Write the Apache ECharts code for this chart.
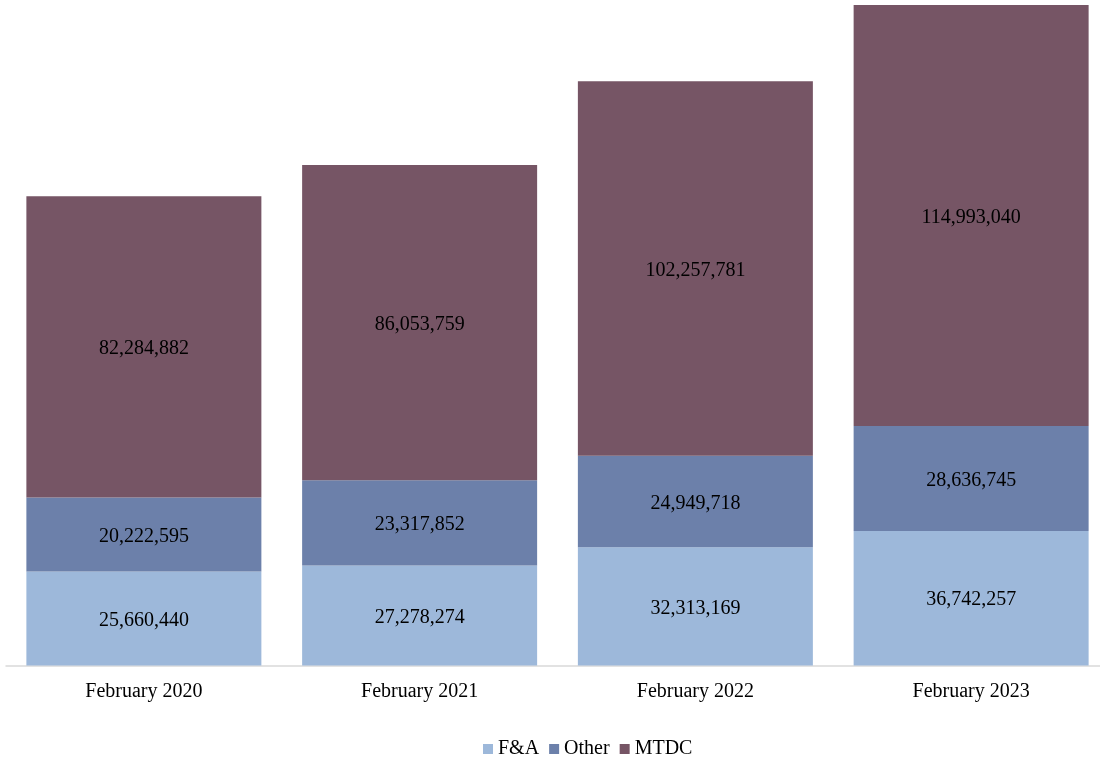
<!DOCTYPE html>
<html><head><meta charset="utf-8">
<script src="https://cdn.jsdelivr.net/npm/echarts@6/dist/echarts.min.js"></script>
<style>html,body{margin:0;padding:0;background:#fff;overflow:hidden}#c{width:1109px;height:759px}</style>
</head><body><div id="c"></div>
<script>
const categories = ['February 2020','February 2021','February 2022','February 2023'];
const fa = [25660440, 27278274, 32313169, 36742257];
const other = [20222595, 23317852, 24949718, 28636745];
const mtdc = [82284882, 86053759, 102257781, 114993040];
const seriesNames = ['F&A','Other','MTDC'];
const colors = ['#9db8da','#6c80aa','#765565'];

const totals = categories.map((_, i) => fa[i] + other[i] + mtdc[i]);
const maxTotal = Math.max(...totals);
const fmt = v => v.toLocaleString('en-US');
const font = '"Liberation Serif", "Times New Roman", serif';

const chart = echarts.init(document.getElementById('c'));
const mk = (name, data, color) => ({
  name, type: 'bar', stack: 'total', data, barWidth: 235,
  itemStyle: { color },
  label: { show: true, position: 'inside', offset: [0, 2], color: '#000', fontFamily: font, fontSize: 20,
           formatter: p => fmt(p.value) }
});
chart.setOption({
  animation: false,
  grid: { left: 6, top: 5, bottom: 93.5, right: 0, containLabel: false },
  legend: {
    data: seriesNames, left: 478, top: 734, itemWidth: 10, itemHeight: 10, itemGap: 10,
    icon: 'rect', textStyle: { fontFamily: font, fontSize: 20, color: '#000' }
  },
  xAxis: {
    type: 'category', data: categories,
    axisLine: { lineStyle: { color: '#d9d9d9', width: 1.5 } },
    axisTick: { show: false },
    axisLabel: { color: '#000', fontFamily: font, fontSize: 20, margin: 16 }
  },
  yAxis: { type: 'value', min: 0, max: maxTotal, show: false, splitLine: { show: false } },
  series: [mk(seriesNames[0], fa, colors[0]), mk(seriesNames[1], other, colors[1]), mk(seriesNames[2], mtdc, colors[2])]
});
</script></body></html>
